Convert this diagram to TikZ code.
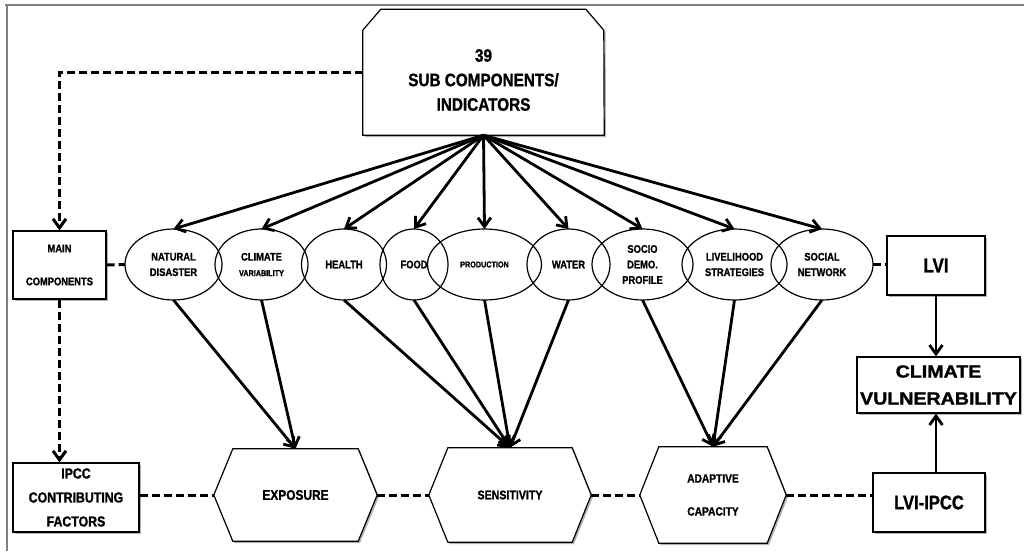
\documentclass[tikz,border=0pt]{standalone}
\usepackage{fontspec}
\setmainfont{Liberation Sans}
\newfontfamily\nar[FakeStretch=0.85, BoldFont={Liberation Sans Bold}, BoldFeatures={FakeBold=1.2}]{Liberation Sans}
\newfontfamily\wid[FakeStretch=1.12, BoldFont={Liberation Sans Bold}, BoldFeatures={FakeBold=1.5}]{Liberation Sans}
\usetikzlibrary{arrows.meta,shapes.geometric,shadows,calc}
\pgfdeclarelayer{bg}
\pgfsetlayers{bg,main}
\begin{document}
\begin{tikzpicture}[x=1pt,y=-1pt,
  shd/.style={drop shadow={shadow xshift=1.8pt,shadow yshift=-1.8pt,fill=black,opacity=0.3}},
  bx/.style={draw, line width=1.2pt, fill=white, rectangle, inner sep=0pt, align=center, shd},
  el/.style={draw, ellipse, line width=1.2pt, inner sep=0pt, outer sep=0pt, minimum height=71pt, align=center, font=\nar\bfseries\fontsize{11}{15.5}\selectfont},
  tip/.style={-{Straight Barb[length=9pt,width=13pt]}},
  ar/.style={line width=2.8pt, tip},
  dsh/.style={line width=3pt, dash pattern=on 8pt off 4pt},
  hex/.style={inner sep=0pt, align=center},
  outl/.style={draw, line width=1.2pt, fill=white, shd}
]
\useasboundingbox (0,0) rectangle (1024,551);
% frame
\draw[gray, line width=2pt] (5,5) -- (1024,5);
\draw[gray, line width=2pt] (7,5) -- (7,551);

% top box
\node[inner sep=0pt, minimum width=241pt, minimum height=110pt, align=center,
      font=\nar\bfseries\fontsize{18}{24.5}\selectfont] (top) at (483.5,80) {39\\SUB COMPONENTS/\\INDICATORS};
\begin{pgfonlayer}{bg}
\path[outl] (top.south west) -- ++(0,-105) -- ++(18,-21) -- ++(205,0) -- ++(18,21) -- (top.south east) -- cycle;
\end{pgfonlayer}

% left boxes
\node[bx, minimum width=93pt, minimum height=68pt, font=\nar\bfseries\fontsize{11}{33}\selectfont] (main) at (59.5,265) {MAIN\\COMPONENTS};
\node[bx, minimum width=126pt, minimum height=69pt, font=\nar\bfseries\fontsize{14.5}{24}\selectfont] (ipcc) at (76,497.5) {IPCC\\CONTRIBUTING\\FACTORS};

% right boxes
\node[bx, minimum width=98pt, minimum height=59pt, font=\nar\bfseries\fontsize{20}{22}\selectfont] (lvi) at (936,265.5) {LVI};
\node[bx, minimum width=163pt, minimum height=56pt, font=\wid\bfseries\fontsize{17.5}{27}\selectfont] (cv) at (938.5,385) {CLIMATE\\VULNERABILITY};
\node[bx, minimum width=112pt, minimum height=59pt, font=\nar\bfseries\fontsize{19.5}{22}\selectfont] (lviipcc) at (929,502.5) {LVI-IPCC};

% ellipses
\node[el, minimum width=97pt] (nd) at (173.5,264.5) {NATURAL\\DISASTER};
\node[el, minimum width=93pt] (cvar) at (261.5,264.5) {CLIMATE\\{\fontsize{8.5}{10}\selectfont VARIABILITY}};
\node[el, minimum width=85pt] (hea) at (344,264.5) {HEALTH};
\node[el, minimum width=68pt] (food) at (414,264.5) {FOOD};
\node[el, minimum width=114pt, font=\nar\bfseries\fontsize{8.5}{10}\selectfont] (prod) at (484.5,264.5) {PRODUCTION};
\node[el, minimum width=83pt] (wat) at (568.5,264.5) {WATER};
\node[el, minimum width=101pt] (soc) at (642.5,264.5) {SOCIO\\DEMO.\\PROFILE};
\node[el, minimum width=105pt] (liv) at (734.5,264.5) {LIVELIHOOD\\STRATEGIES};
\node[el, minimum width=102pt] (net) at (822,264.5) {SOCIAL\\NETWORK};

% hexagons
\node[hex, minimum width=125pt, minimum height=92pt, font=\nar\bfseries\fontsize{14}{16}\selectfont] (exp) at (295.5,495) {EXPOSURE};
\node[hex, minimum width=124pt, minimum height=94pt, font=\nar\bfseries\fontsize{12.5}{14}\selectfont] (sen) at (510,495) {SENSITIVITY};
\node[hex, minimum width=108pt, minimum height=96pt, font=\nar\bfseries\fontsize{12}{33}\selectfont] (ada) at (713,495) {ADAPTIVE\\CAPACITY};
\foreach \h in {exp,sen,ada}{
  \coordinate (\h L) at ($(\h.west)+(-19,0)$);
  \coordinate (\h R) at ($(\h.east)+(19,0)$);
}
\begin{pgfonlayer}{bg}
\foreach \h in {exp,sen,ada}{
  \path[outl] (\h.north west) -- (\h.north east) -- (\h R) -- (\h.south east) -- (\h.south west) -- (\h L) -- cycle;
}
\end{pgfonlayer}

% arrows from top box
\foreach \t in {nd,cvar,hea,food,prod,wat,soc,liv,net}{
  \draw[ar] (top.south) -- (\t.north);
}
% arrows to hexagons
\foreach \t in {nd,cvar}{ \draw[ar] (\t.south) -- (exp.north); }
\foreach \t in {hea,food,prod,wat}{ \draw[ar] (\t.south) -- (sen.north); }
\foreach \t in {soc,liv,net}{ \draw[ar] (\t.south) -- (ada.north); }

% right arrows
\draw[ar] (lvi.south) -- (lvi.south |- cv.north);
\draw[ar] (lviipcc.north -| lvi.south) -- (cv.south -| lvi.south);

% dashed connectors
\draw[dsh, tip] ($(top.south west)+(0,-63)$) -| (main.north);
\draw[dsh, tip] (main.south) -- (main.south |- ipcc.north);
\draw[dsh] (main.east) -- (nd.west);
\draw[dsh] (net.east) -- (net.east -| lvi.west);
\draw[dsh] (ipcc.east |- expL) -- (expL);
\draw[dsh] (expR) -- (senL);
\draw[dsh] (senR) -- (adaL);
\draw[dsh] (adaR) -- (adaR -| lviipcc.west);
\end{tikzpicture}
\end{document}
